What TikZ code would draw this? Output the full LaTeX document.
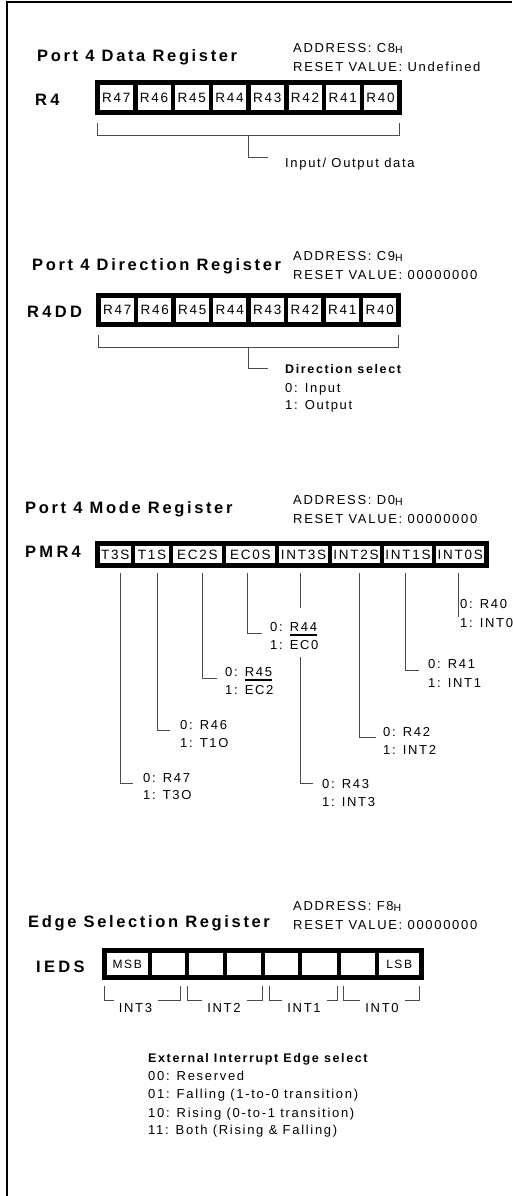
\documentclass[tikz,border=0pt]{standalone}
\usepackage{fontspec}
\setmainfont{Liberation Sans}[LetterSpace=13]
\usetikzlibrary{calc}

\newcommand\regsub[1]{\raisebox{-1pt}{\fontsize{10.5}{10.5}\selectfont #1}}
\newcommand\regbar[1]{\setbox0\hbox{#1}\rlap{\rule[-4.5pt]{\wd0}{1.6pt}}\box0}

\tikzset{
  cell/.style={draw, line width=4.5pt, inner sep=0pt, outer sep=0pt,
    font=\fontsize{13.5}{15}\selectfont},
  wire/.style={draw=black!70, line width=0.9pt},
  txt/.style={anchor=base west, inner sep=0pt, font=\fontsize{13}{15}\selectfont},
  hdr/.style={anchor=base west, inner sep=0pt,
    font=\fontsize{16.5}{19}\selectfont\bfseries\addfontfeatures{LetterSpace=16}},
  regname/.style={anchor=base west, inner sep=0pt,
    font=\fontsize{16.5}{19}\selectfont\bfseries\addfontfeatures{LetterSpace=20}},
  note/.style={anchor=base west, inner sep=0pt, font=\fontsize{12.5}{15}\selectfont\bfseries}
}

\begin{document}
\begin{tikzpicture}[x=1pt,y=-1pt]
\useasboundingbox (0,0) rectangle (512,1196);

% frame
\draw[line width=2.5pt] (7,1196) -- (7,2) -- (512,2);

% Port 4 Data Register
\node[hdr] (t1) at (37,62) {Port 4 Data Register};
\node[txt] (a1) at (293,53) {ADDRESS: C8\regsub{H}};
\node[txt] (v1) at (293,72) {RESET VALUE: Undefined};
\node[regname] (n1) at (35,106) {R4};
\foreach \i/\t in {7/R47,6/R46,5/R45,4/R44,3/R43,2/R42,1/R41,0/R40}
  \node[cell, minimum width=37.75pt, minimum height=30pt] (d\i) at ({116.375+37.75*(7-\i)},97.5) {\t};
\node[txt] (io) at (285,167) {Input/ Output data};
\coordinate (bus1) at ($(d7.south west)!0.5!(d0.south east)+(0,22.5)$);
\draw[wire] ($(d7.south west)+(0,10.5)$) -- ++(0,12) -| ($(d0.south east)+(0,10.5)$);
\draw[wire] (bus1) |- ($(io.base west)+(-17,-10)$);

% Port 4 Direction Register
\node[hdr] (t2) at (32,270) {Port 4 Direction Register};
\node[txt] (a2) at (293,260) {ADDRESS: C9\regsub{H}};
\node[txt] (v2) at (293,279) {RESET VALUE: 00000000};
\node[regname] (n2) at (27,317) {R4DD};
\foreach \i/\t in {7/R47,6/R46,5/R45,4/R44,3/R43,2/R42,1/R41,0/R40}
  \node[cell, minimum width=37.5pt, minimum height=29pt] (r\i) at ({117.25+37.5*(7-\i)},310) {\t};
\node[note] (ds) at (285,373) {Direction select};
\node[txt] (ds0) at (285,392) {0: Input};
\node[txt] (ds1) at (285,409) {1: Output};
\coordinate (bus2) at ($(r7.south west)!0.5!(r0.south east)+(0,22.5)$);
\draw[wire] ($(r7.south west)+(0,10.5)$) -- ++(0,12) -| ($(r0.south east)+(0,10.5)$);
\draw[wire] (bus2) |- ($(ds.base west)+(-17,-5)$);

% Port 4 Mode Register
\node[hdr] (t3) at (25,513) {Port 4 Mode Register};
\node[txt] (a3) at (293,504) {ADDRESS: D0\regsub{H}};
\node[txt] (v3) at (293,523) {RESET VALUE: 00000000};
\node[regname] (n3) at (25,557) {PMR4};
\foreach \i/\c/\w/\t in {7/115.25/35.5/T3S,6/152/38/T1S,5/197.5/53/EC2S,4/250.5/53/EC0S,
    3/303.5/53/INT3S,2/356/52/INT2S,1/408/52/INT1S,0/460.25/52.5/INT0S}
  \node[cell, minimum width=\w pt, minimum height=22pt] (m\i) at (\c,554.5) {\t};

\node[txt] (z7) at (143,782) {0: R47};
\node[txt] (o7) at (143,799) {1: T3O};
\node[txt] (z6) at (180,729) {0: R46};
\node[txt] (o6) at (180,747) {1: T1O};
\node[txt] (z5) at (225,676) {0: \regbar{R45}};
\node[txt] (o5) at (225,694) {1: EC2};
\node[txt] (z4) at (270,631) {0: \regbar{R44}};
\node[txt] (o4) at (270,649) {1: EC0};
\node[txt] (z3) at (322,788) {0: R43};
\node[txt] (o3) at (322,806) {1: INT3};
\node[txt] (z2) at (383,736) {0: R42};
\node[txt] (o2) at (383,754) {1: INT2};
\node[txt] (z1) at (428,668) {0: R41};
\node[txt] (o1) at (428,687) {1: INT1};
\node[txt] (z0) at (460,608) {0: R40};
\node[txt] (o0) at (460,627) {1: INT0};

\draw[wire] ($(m7.south)+(4.75,7.5)$) |- ($(z7.base west)+(-10,1)$);
\draw[wire] ($(m6.south)+(5,7.5)$) |- ($(z6.base west)+(-10,1)$);
\draw[wire] ($(m5.south)+(4.5,7.5)$) |- ($(z5.base west)+(-8,2)$);
\draw[wire] ($(m4.south)+(-3.5,7.5)$) |- ($(z4.base west)+(-8,2)$);
\draw[wire] ($(m3.south)+(-3.5,7.5)$) -- ++(0,35);
\draw[wire] ($(m3.south |- o4.base)+(-3.5,8)$) |- ($(z3.base west)+(-9,-5)$);
\draw[wire] ($(m2.south)+(3,7.5)$) |- ($(z2.base west)+(-7,1)$);
\draw[wire] ($(m1.south)+(-3,7.5)$) |- ($(z1.base west)+(-9,2)$);
\draw[wire] ($(m0.south)+(-2.25,7.5)$) -- ($(m0.south |- o0.base)+(-2.25,-10)$);

% Edge Selection Register
\node[hdr] (t4) at (28,927) {Edge Selection Register};
\node[txt] (a4) at (293,910) {ADDRESS: F8\regsub{H}};
\node[txt] (v4) at (293,929) {RESET VALUE: 00000000};
\node[regname] (n4) at (36,972) {IEDS};
\foreach \i/\c/\w/\t in {7/127.25/45.5/MSB,6/168.5/37/,5/206/38/,4/244/38/,
    3/281.5/37/,2/319.5/39/,1/358/38/,0/399.15/44.3/LSB}
  \node[cell, minimum width=\w pt, minimum height=27pt, font=\fontsize{12}{14}\selectfont] (e\i) at (\c,964) {\t};

\node[txt, anchor=base] (g3) at (135.5,1012) {INT3};
\node[txt, anchor=base] (g2) at (224,1012) {INT2};
\node[txt, anchor=base] (g1) at (304,1012) {INT1};
\node[txt, anchor=base] (g0) at (382,1012) {INT0};
\draw[wire] ($(e7.south west)+(0,8.5)$) |- ($(g3.base west)+(-5,-11.5)$);
\draw[wire] ($(g3.base east)+(6,-11.5)$) -| ($(e6.south east)+(-7,8.5)$);
\draw[wire] ($(e5.south west)+(0,8.5)$) |- ($(g2.base west)+(-5,-11.5)$);
\draw[wire] ($(g2.base east)+(6,-11.5)$) -| ($(e4.south east)+(-1,8.5)$);
\draw[wire] ($(e3.south west)+(6,8.5)$) |- ($(g1.base west)+(-5,-11.5)$);
\draw[wire] ($(g1.base east)+(6,-11.5)$) -| ($(e2.south east)+(-2,8.5)$);
\draw[wire] ($(e1.south west)+(4,8.5)$) |- ($(g0.base west)+(-5,-11.5)$);
\draw[wire] ($(g0.base east)+(6,-11.5)$) -| ($(e0.south east)+(-2,8.5)$);

\node[note] (ex) at (148,1062) {External Interrupt Edge select};
\node[txt] (ex0) at (148,1080) {00: Reserved};
\node[txt] (ex1) at (148,1098) {01: Falling (1-to-0 transition)};
\node[txt] (ex2) at (148,1117) {10: Rising (0-to-1 transition)};
\node[txt] (ex3) at (148,1134) {11: Both (Rising \& Falling)};

\end{tikzpicture}
\end{document}
